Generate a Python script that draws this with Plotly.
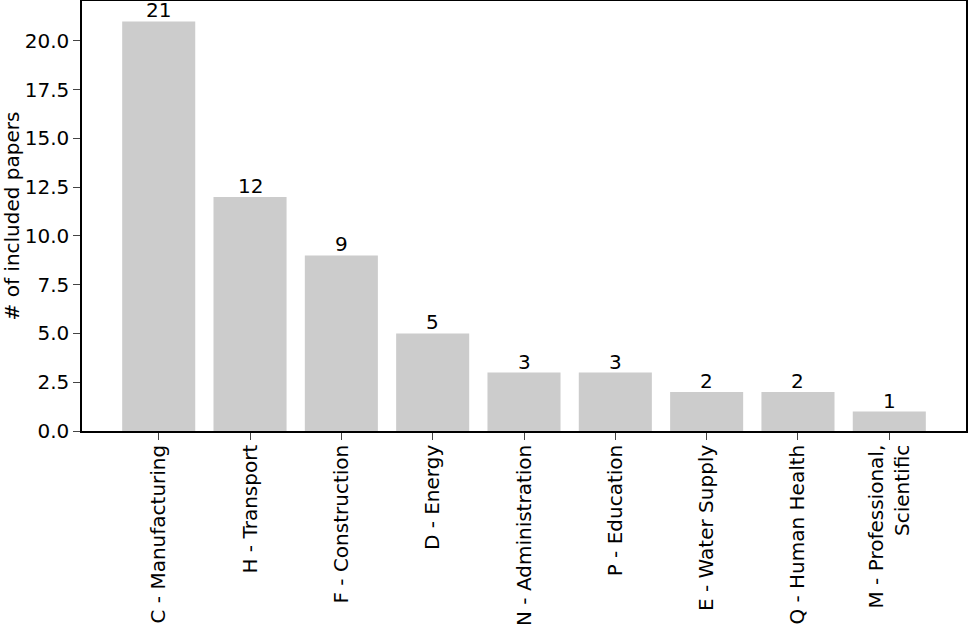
import plotly.graph_objects as go

categories = ["C - Manufacturing", "H - Transport", "F - Construction", "D - Energy",
              "N - Administration", "P - Education", "E - Water Supply", "Q - Human Health",
              "M - Professional,<br>Scientific"]
counts = [21, 12, 9, 5, 3, 3, 2, 2, 1]
y_tick_vals = [0, 2.5, 5, 7.5, 10, 12.5, 15, 17.5, 20]
y_tick_text = ["0.0", "2.5", "5.0", "7.5", "10.0", "12.5", "15.0", "17.5", "20.0"]

FONT = "DejaVu Sans"
FS = 20
xs = list(range(len(categories)))
fig = go.Figure(go.Bar(
    x=xs, y=counts, width=0.8,
    marker=dict(color="#cccccc", line=dict(width=0)),
))
for xi, c in zip(xs, counts):
    fig.add_annotation(x=xi, y=c, text=str(c), showarrow=False, yanchor="bottom",
                       yshift=-3, font=dict(family=FONT, size=FS, color="black"))
fig.update_layout(
    width=970, height=634,
    margin=dict(l=82, r=4, t=1, b=203),
    plot_bgcolor="white", paper_bgcolor="white",
    font=dict(family=FONT, size=FS, color="black"),
    showlegend=False,
    xaxis=dict(range=[-0.84, 8.84], tickmode="array", tickvals=xs,
               ticktext=categories, tickangle=-90, ticks="outside", ticklen=7, tickwidth=1.3,
               ticklabelstandoff=-3,
               showline=True, linecolor="black", linewidth=1.5, mirror=True, showgrid=False,
               zeroline=False, tickfont=dict(family=FONT, size=FS), automargin=False),
    yaxis=dict(range=[0, 22.05], tickmode="array", tickvals=y_tick_vals, ticktext=y_tick_text,
               ticks="outside", ticklen=7, tickwidth=1.3,
               showline=True, linecolor="black", linewidth=1.5, mirror=True, showgrid=False,
               zeroline=False, tickfont=dict(family=FONT, size=FS), automargin=False,
               title=dict(text="# of included papers", font=dict(family=FONT, size=FS), standoff=8)),
)
fig.write_html("out.html", post_script="document.body.style.margin='0';",
               config={"displayModeBar": False})
